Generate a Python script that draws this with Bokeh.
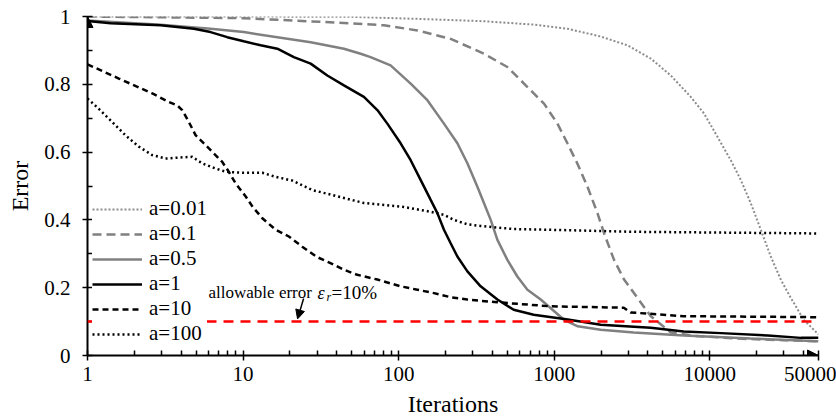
from bokeh.plotting import figure
from bokeh.models import (FixedTicker, CustomJSTickFormatter, Legend, LegendItem,
                          Span, Label, Arrow, NormalHead, Range1d)
from bokeh.embed import file_html
from bokeh.resources import INLINE

# ---------------- data ----------------
x_a001 = [1, 10, 49, 132, 354, 741, 1216, 1991, 2956, 4178, 5615, 7548, 9190, 11210, 13650, 15820,
          18360, 21290, 24660, 28620, 33190, 40230, 50000]
y_a001 = [1.0, 1.0, 0.999, 0.993, 0.986, 0.976, 0.964, 0.941, 0.915, 0.876, 0.826, 0.763, 0.714, 0.645,
          0.576, 0.518, 0.449, 0.371, 0.292, 0.224, 0.170, 0.105, 0.062]

x_a01 = [1, 10, 49, 80.5, 132, 216, 354, 500, 673, 860, 1049, 1216, 1410, 1636, 1897, 2091, 2425, 2813,
         3428, 4178, 5615, 8000, 15000, 30000, 50000]
y_a01 = [1.0, 0.995, 0.980, 0.974, 0.959, 0.934, 0.890, 0.851, 0.792, 0.743, 0.684, 0.626, 0.566, 0.498,
         0.420, 0.361, 0.282, 0.224, 0.170, 0.116, 0.068, 0.058, 0.05, 0.045, 0.042]

x_a05 = [1, 2.95, 6.18, 10.1, 16.6, 27.2, 44.5, 57, 66, 88.8, 119.5, 153, 195.6, 238.6, 276.7, 320.8,
         354, 390.7, 431.5, 500, 579.6, 673, 819, 1151, 1416, 1990, 3245, 6800, 18350, 50000]
y_a05 = [0.988, 0.976, 0.964, 0.954, 0.939, 0.924, 0.905, 0.89, 0.880, 0.856, 0.802, 0.753, 0.684, 0.626,
         0.567, 0.498, 0.449, 0.40, 0.341, 0.282, 0.233, 0.194, 0.165, 0.106, 0.086, 0.076, 0.068, 0.059,
         0.05, 0.042]

x_a1 = [1, 1.41, 2.95, 4.83, 6.18, 7.91, 10.1, 12.97, 16.6, 21.2, 27.2, 34.8, 44.5, 59.8, 73, 84.6, 103,
        119.5, 138.4, 160.7, 177.4, 195.6, 216, 238.6, 276.7, 336.6, 431.5, 549, 738, 1222, 1990, 4175,
        6800, 11770, 23600, 38500, 50000]
y_a1 = [0.987, 0.98, 0.974, 0.964, 0.954, 0.939, 0.927, 0.915, 0.905, 0.880, 0.861, 0.826, 0.797, 0.763,
        0.724, 0.684, 0.626, 0.576, 0.518, 0.459, 0.420, 0.371, 0.331, 0.292, 0.248, 0.204, 0.165, 0.135,
        0.12, 0.106, 0.091, 0.082, 0.071, 0.066, 0.059, 0.052, 0.052]

x_a10 = [1, 1.59, 2.61, 3.33, 3.77, 4.06, 4.48, 4.95, 6.03, 7.35, 8.1, 8.95, 10.4, 11.5, 13.3, 16.2, 19.7,
         24, 30, 38.4, 44.5, 54.2, 73, 103, 132, 168.7, 216, 276.7, 431.5, 949, 2800, 3100, 6800, 50000]
y_a10 = [0.859, 0.817, 0.773, 0.748, 0.738, 0.724, 0.689, 0.650, 0.611, 0.571, 0.542, 0.508, 0.469, 0.439,
         0.405, 0.371, 0.351, 0.321, 0.29, 0.268, 0.253, 0.238, 0.224, 0.204, 0.194, 0.184, 0.172, 0.165,
         0.157, 0.145, 0.141, 0.127, 0.116, 0.113]

x_a100 = [1, 1.18, 1.44, 1.75, 2.14, 2.61, 3.17, 3.87, 4.71, 5.46, 6.34, 7.72, 9.88, 13.3, 16.2, 20.7,
          27.9, 39.3, 59.6, 108, 160.7, 195.6, 226.6, 276.7, 337, 549, 1151, 3100, 50000]
y_a100 = [0.758, 0.728, 0.689, 0.650, 0.616, 0.591, 0.581, 0.584, 0.586, 0.567, 0.555, 0.542, 0.539, 0.539,
          0.527, 0.516, 0.488, 0.471, 0.45, 0.438, 0.424, 0.415, 0.40, 0.387, 0.382, 0.373, 0.37, 0.365,
          0.36]

labels = ["a=0.01", "a=0.1", "a=0.5", "a=1", "a=10", "a=100"]
threshold = 0.1
x_ticks = [1, 10, 100, 1000, 10000, 50000]
y_ticks = [0, 0.2, 0.4, 0.6, 0.8, 1.0]
X_MIN, X_MAX = 1, 50000
Y_MIN, Y_MAX = 0, 1

SERIF = "Liberation Serif"

p = figure(width=836, height=419, x_axis_type="log",
           x_range=Range1d(X_MIN, X_MAX), y_range=Range1d(Y_MIN, Y_MAX),
           output_backend="svg", toolbar_location=None,
           min_border_left=87, min_border_right=18, min_border_top=16, min_border_bottom=63)
p.outline_line_color = None
p.xgrid.grid_line_color = None
p.ygrid.grid_line_color = None
p.background_fill_color = "white"

# axes
minor_x = [m * 10 ** d for d in range(0, 5) for m in range(2, 10) if m * 10 ** d < X_MAX]
p.xaxis.ticker = FixedTicker(ticks=x_ticks, minor_ticks=minor_x)
p.xaxis.formatter = CustomJSTickFormatter(code="return Math.round(tick).toString();")
p.yaxis.ticker = FixedTicker(ticks=y_ticks, minor_ticks=[0.1, 0.3, 0.5, 0.7, 0.9])
p.yaxis.formatter = CustomJSTickFormatter(code="return tick.toFixed(1).replace(/\\.0$/, '');")

for ax in (p.xaxis[0], p.yaxis[0]):
    ax.axis_line_color = "black"
    ax.axis_line_width = 2
    ax.major_tick_line_color = "black"
    ax.major_tick_line_width = 1.5
    ax.minor_tick_line_color = "black"
    ax.minor_tick_line_width = 1.5
    ax.major_tick_in = 5
    ax.major_tick_out = 5
    ax.minor_tick_in = 5
    ax.minor_tick_out = 0
    ax.major_label_text_font = SERIF
    ax.major_label_text_font_size = "21px"
    ax.major_label_text_color = "black"
    ax.axis_label_text_font = SERIF
    ax.axis_label_text_font_size = "24px"
    ax.axis_label_text_font_style = "normal"
    ax.axis_label_text_color = "black"

p.xaxis.axis_label = "Iterations"
p.yaxis.axis_label = "Error"
p.xaxis.major_label_standoff = 6
p.xaxis.axis_label_standoff = 7
p.yaxis.major_label_standoff = 12
p.yaxis.axis_label_standoff = 8

# threshold line
span = Span(location=threshold, dimension="width", line_color="red",
            line_width=2.5, line_dash="10 7")
p.add_layout(span)

gray = "#808080"
r1 = p.line(x_a001, y_a001, line_color="#8c8c8c", line_width=2, line_dash="2 2")
r2 = p.line(x_a01, y_a01, line_color=gray, line_width=2.5, line_dash="9 5")
r3 = p.line(x_a05, y_a05, line_color=gray, line_width=2.5)
r4 = p.line(x_a1, y_a1, line_color="black", line_width=2.5)
r5 = p.line(x_a10, y_a10, line_color="black", line_width=2.5, line_dash="6 4")
r6 = p.line(x_a100, y_a100, line_color="black", line_width=2.5, line_dash="2 3")

# axis arrow heads
p.add_layout(Arrow(end=NormalHead(size=11, fill_color="black", line_color="black"),
                   x_start=X_MIN, y_start=Y_MAX * 0.95, x_end=X_MIN, y_end=Y_MAX,
                   line_alpha=0))
p.add_layout(Arrow(end=NormalHead(size=11, fill_color="black", line_color="black"),
                   x_start=X_MAX * 0.8, y_start=Y_MIN, x_end=X_MAX, y_end=Y_MIN,
                   line_alpha=0))

# annotation
ann_x, ann_y = 6.0, 0.185
p.add_layout(Label(x=ann_x, y=ann_y, text="allowable error", text_font=SERIF,
                   text_font_size="17px", text_color="black", text_baseline="alphabetic"))
p.add_layout(Label(x=ann_x, y=ann_y, x_offset=109, text="ε", text_font=SERIF,
                   text_font_style="italic",
                   text_font_size="18px", text_color="black", text_baseline="alphabetic"))
p.add_layout(Label(x=ann_x, y=ann_y, x_offset=118, y_offset=-4, text="r", text_font=SERIF,
                   text_font_style="italic",
                   text_font_size="12px", text_color="black", text_baseline="alphabetic"))
p.add_layout(Label(x=ann_x, y=ann_y, x_offset=123, text="=10%", text_font=SERIF,
                   text_font_size="19px", text_color="black", text_baseline="alphabetic"))
p.add_layout(Arrow(end=NormalHead(size=9, fill_color="black", line_color="black"),
                   x_start=24.5, y_start=0.168, x_end=22.4, y_end=threshold + 0.008,
                   line_color="black", line_width=1.5))

legend = Legend(items=[LegendItem(label=l, renderers=[r]) for l, r in
                       zip(labels, [r1, r2, r3, r4, r5, r6])],
                location=(5, 9))
legend.background_fill_color = "white"
legend.background_fill_alpha = 1.0
legend.border_line_color = None
legend.label_text_font = SERIF
legend.label_text_font_size = "21px"
legend.label_text_color = "black"
legend.glyph_width = 50
legend.glyph_height = 20
legend.label_height = 20
legend.label_standoff = 7
legend.spacing = -1
legend.padding = 12
legend.margin = 0
p.add_layout(legend)

open("out.html", "w").write(file_html(p, INLINE))
